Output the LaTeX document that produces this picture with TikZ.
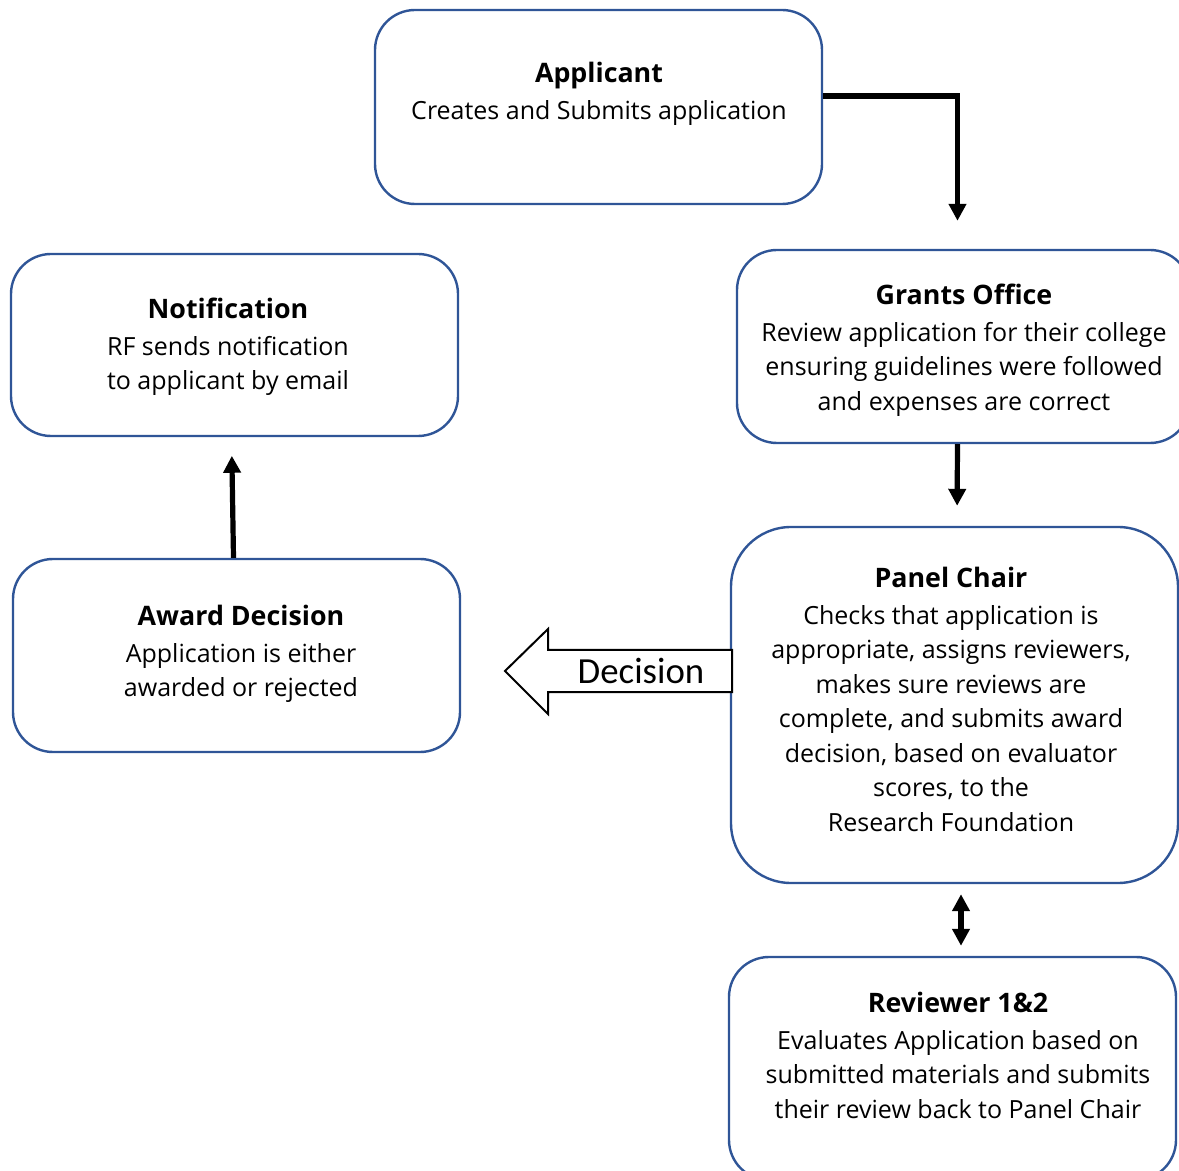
\documentclass[tikz,border=0pt]{standalone}
\usepackage{fontspec}
\setmainfont{Open Sans}
\newfontfamily\decfont{Carlito}
\usetikzlibrary{arrows.meta,positioning,calc}

\definecolor{boxblue}{HTML}{2F5597}
\newcommand{\ttl}[1]{{\fontsize{13.4}{17.25}\selectfont\bfseries #1}}

\begin{document}
\begin{tikzpicture}[x=0.5pt,y=-0.5pt,
    box/.style={draw=boxblue, line width=1.2pt, rounded corners=20pt, fill=white},
    txt/.style={anchor=north, align=center, inner sep=0pt, font=\fontsize{12.5}{17.25}\selectfont},
    flow/.style={line width=2.6pt, -{Triangle[width=8.5pt,length=8.5pt]}},
    both/.style={line width=2.6pt, {Triangle[width=8.5pt,length=8.5pt]}-{Triangle[width=8.5pt,length=8.5pt]}}
  ]
    \useasboundingbox (0,0) rectangle (1179,1171);
    \clip (0,0) rectangle (1179,1171);

    % Boxes
    \node[box, minimum width=223.5pt, minimum height=97pt] (applicant) at (598.5,107) {};
    \node[box, minimum width=226.5pt, minimum height=96.5pt] (grants) at (963.5,346.5) {};
    \node[box, minimum width=223.5pt, minimum height=91pt] (notif) at (234.5,345) {};
    \node[box, minimum width=223.5pt, minimum height=96.5pt] (award) at (236.5,655.5) {};
    \node[box, minimum width=223.5pt, minimum height=178pt, rounded corners=30pt] (panel) at (954.5,705) {};
    \node[box, minimum width=223.5pt, minimum height=111.5pt] (reviewer) at (952.5,1068.5) {};

    % Texts
    \node[txt] (applicant-txt) at (599,62) {\ttl{Applicant}\\[1pt] Creates and Submits application};
    \node[txt] (grants-txt) at (964,284) {\ttl{Grants Office}\\[1pt] Review application for their college\\ ensuring guidelines were followed\\ and expenses are correct};
    \node[txt] (notif-txt) at (228,298) {\ttl{Notification}\\[1pt] RF sends notification\\ to applicant by email};
    \node[txt] (award-txt) at (241,605) {\ttl{Award Decision}\\[1pt] Application is either\\ awarded or rejected};
    \node[txt] (panel-txt) at (951,567) {\ttl{Panel Chair}\\[1pt] Checks that application is\\ appropriate, assigns reviewers,\\ makes sure reviews are\\ complete, and submits award\\ decision, based on evaluator\\ scores, to the\\ Research Foundation};
    \node[txt] (reviewer-txt) at (958,992) {\ttl{Reviewer 1\&2}\\[1pt] Evaluates Application based on\\ submitted materials and submits\\ their review back to Panel Chair};

    % Connectors
    \draw[flow, shorten >=14pt] ($(applicant.east)+(0,-11)$) -| ($(grants.north)+(-6,0)$);
    \draw[flow, shorten >=10pt] ($(grants.south)+(-6,0)$) -- ($(panel.north)+(2.5,0)$);
    \draw[flow, shorten >=10.5pt] ($(award.north)+(-3,0)$) -- ($(notif.north)+(-3,91*2)$);
    \draw[both, shorten <=5pt, shorten >=5pt] ($(panel.south)+(6.5,0)$) -- ($(reviewer.north)+(8.5,0)$);

    % Decision arrow
    \draw[line width=1pt, fill=white] (732,650) -- (548,650) -- (548,629) -- (505,671)
      -- (548,714) -- (548,692) -- (732,692) -- cycle;
    \node[font=\decfont\fontsize{18.4}{20}\selectfont, inner sep=0pt] (decision) at (641,671) {Decision};
\end{tikzpicture}
\end{document}
